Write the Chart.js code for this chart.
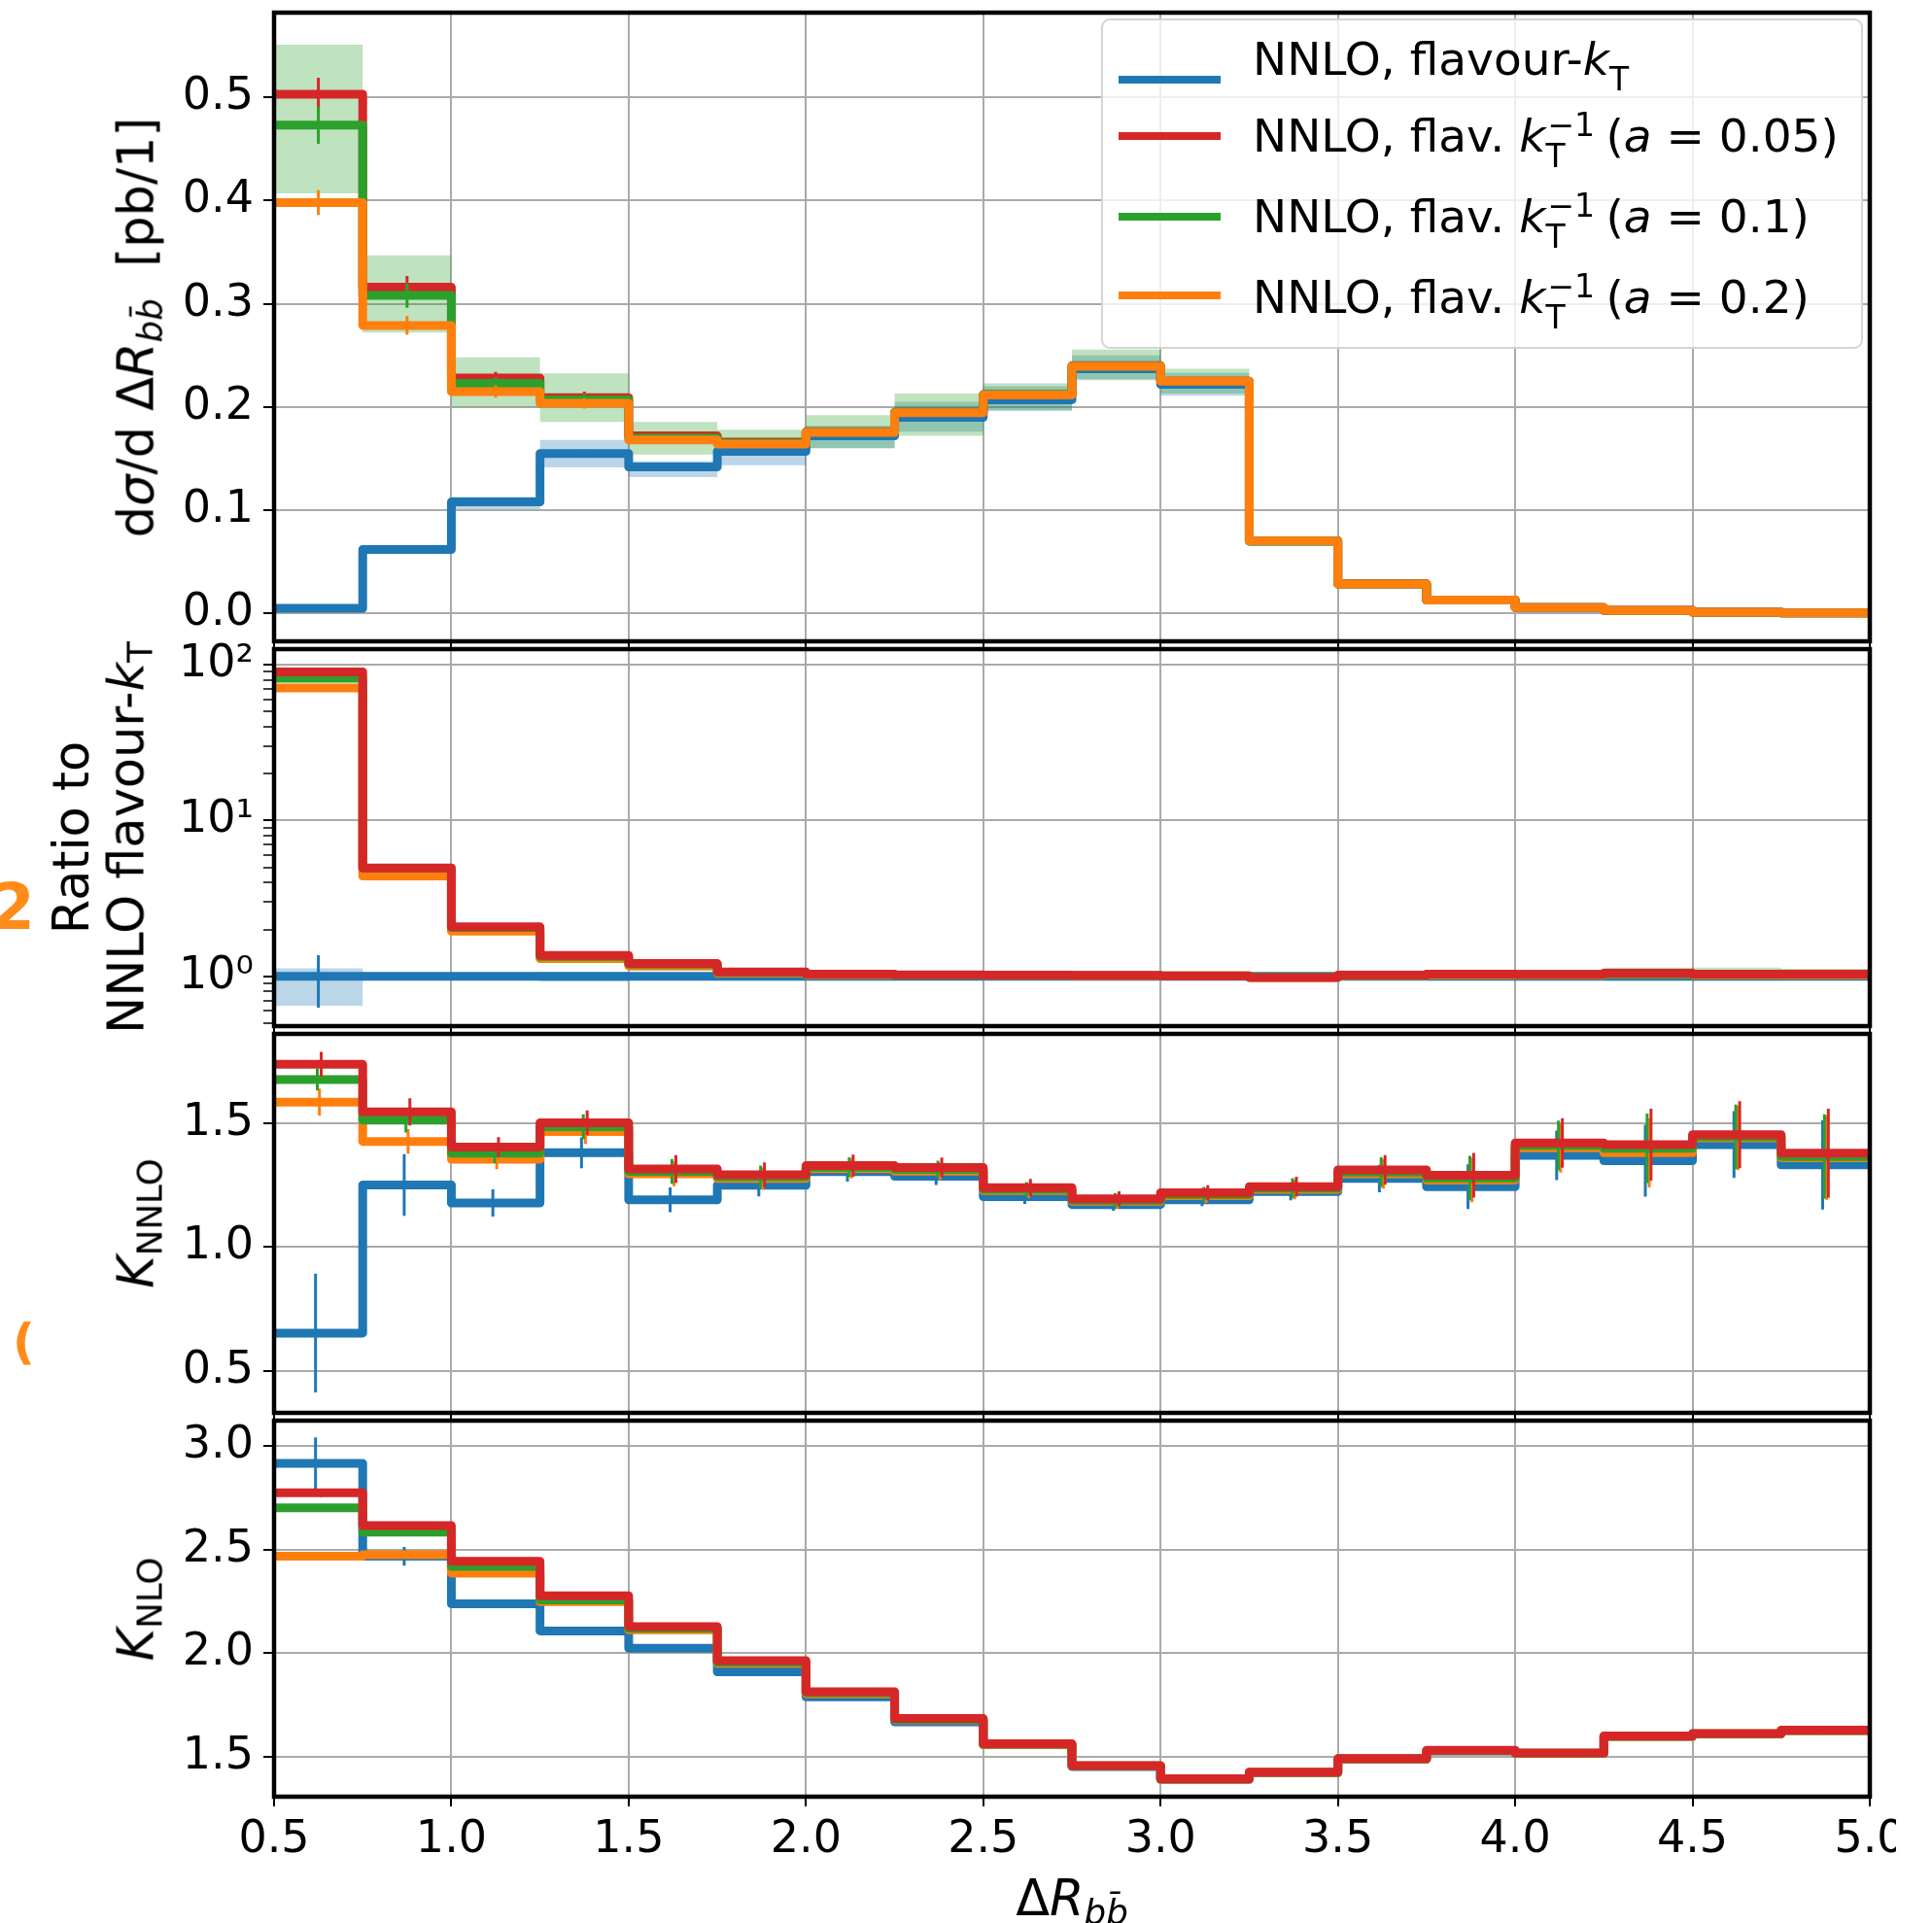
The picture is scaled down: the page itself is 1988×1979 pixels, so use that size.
<!DOCTYPE html>
<html>
<head>
<meta charset="utf-8">
<script src="https://cdn.jsdelivr.net/npm/chart.js@4.4.0/dist/chart.umd.min.js"></script>
<style>
  html, body { margin: 0; padding: 0; background: #fff; width: 1988px; height: 1979px; overflow: hidden; font-family: 'DejaVu Sans', sans-serif; color: #000; }
  canvas { position: absolute; left: 0; }
  .lbl { position: absolute; white-space: pre; font-size: 51px; line-height: 1; }
  .rot { transform: translate(-50%, -50%) rotate(-90deg); }
  .sb { font-size: 0.7em; position: relative; top: 0.25em; }
  .ss { position: relative; display: inline-block; height: 0; }
  .ss .sp { position: absolute; left: 2px; bottom: 11px; font-size: 33px; line-height: 1; }
  .ss .sd { position: absolute; left: 0; top: -12px; font-size: 33px; line-height: 1; }
  #legend { position: absolute; left: 1133px; top: 19px; width: 784px; height: 340px; box-sizing: border-box;
            border: 2px solid #d4d4d4; border-radius: 9px; background: rgba(255,255,255,0.8); }
  .row { position: absolute; left: 154px; white-space: pre; font-size: 47px; line-height: 1; }
  .swatch { position: absolute; left: 16px; width: 105px; height: 8px; }
  .scrib { position: absolute; color: #ff8c1a; font-weight: bold; line-height: 1; }
</style>
</head>
<body>
<canvas id="p1"></canvas>
<canvas id="p2"></canvas>
<canvas id="p3"></canvas>
<canvas id="p4"></canvas>

<div class="lbl rot" style="left:140px; top:337px;">d<i>σ</i>/d Δ<i>R</i><span class="sb"><i>b</i><i>b&#x304;</i></span>  [pb/1]</div>
<div class="lbl rot" style="left:73px; top:862px;">Ratio to</div>
<div class="lbl rot" style="left:130px; top:862px;">NNLO flavour-<i>k</i><span class="sb">T</span></div>
<div class="lbl rot" style="left:140px; top:1259px;"><i>K</i><span class="sb">NNLO</span></div>
<div class="lbl rot" style="left:140px; top:1656px;"><i>K</i><span class="sb">NLO</span></div>
<div class="lbl" style="left:1103px; top:1928px; transform: translateX(-50%);">Δ<i>R</i><span class="sb"><i>b</i><i>b&#x304;</i></span></div>

<div class="scrib" style="left:-10px; top:901px; font-size:66px;">2</div>
<div class="scrib" style="left:13px; top:1356px; font-size:50px;">(</div>

<div id="legend">
  <div class="swatch" style="top:57px; background:#1f77b4;"></div>
  <div class="row" style="top:16px;">NNLO, flavour-<i>k</i><span class="ss" style="width:30px;"><span class="sd">T</span></span></div>
  <div class="swatch" style="top:115px; background:#d62728;"></div>
  <div class="row" style="top:95px;">NNLO, flav. <i>k</i><span class="ss" style="width:62px;"><span class="sp">−1</span><span class="sd">T</span></span>(<i>a</i> = 0.05)</div>
  <div class="swatch" style="top:198px; background:#2ca02c;"></div>
  <div class="row" style="top:178px;">NNLO, flav. <i>k</i><span class="ss" style="width:62px;"><span class="sp">−1</span><span class="sd">T</span></span>(<i>a</i> = 0.1)</div>
  <div class="swatch" style="top:279px; background:#ff7f0e;"></div>
  <div class="row" style="top:261px;">NNLO, flav. <i>k</i><span class="ss" style="width:62px;"><span class="sp">−1</span><span class="sd">T</span></span>(<i>a</i> = 0.2)</div>
</div>

<script>
// bin edges in Delta R_bb and shared x ticks
const EDGES = [0.5, 0.75, 1.0, 1.25, 1.5, 1.75, 2.0, 2.25, 2.5, 2.75, 3.0, 3.25, 3.5, 3.75, 4.0, 4.25, 4.5, 4.75, 5.0];
const X_TICKS = [0.5, 1.0, 1.5, 2.0, 2.5, 3.0, 3.5, 4.0, 4.5, 5.0];

const C_KT = '#1f77b4', C_A005 = '#d62728', C_A01 = '#2ca02c', C_A02 = '#ff7f0e';

// panel 1: dsigma/dDeltaR [pb]
const XS_TICKS = [0.0, 0.1, 0.2, 0.3, 0.4, 0.5];
const XS_KT   = [0.005, 0.062, 0.108, 0.155, 0.142, 0.157, 0.172, 0.190, 0.207, 0.237, 0.222, 0.0700, 0.0285, 0.0130, 0.0057, 0.0030, 0.0012, 0.0005];
const XS_A005 = [0.503, 0.316, 0.228, 0.209, 0.172, 0.166, 0.176, 0.195, 0.212, 0.240, 0.225, 0.0705, 0.0287, 0.0131, 0.0058, 0.0031, 0.0013, 0.0005];
const XS_A01  = [0.473, 0.308, 0.223, 0.207, 0.170, 0.165, 0.1755, 0.195, 0.212, 0.2395, 0.225, 0.0703, 0.0286, 0.0130, 0.0058, 0.0030, 0.0013, 0.0005];
const XS_A02  = [0.398, 0.279, 0.215, 0.2035, 0.168, 0.164, 0.1754, 0.1945, 0.2117, 0.2394, 0.225, 0.0701, 0.0285, 0.0130, 0.0057, 0.0030, 0.0012, 0.0005];
const XS_KT_ERR   = [0.001, 0.003, 0.003, 0.004, 0.003, 0.003, 0.003, 0.003, 0.003, 0.003, 0.003, 0.002, 0.001, 0.001, 0.001, 0.0005, 0.0005, 0.0005];
const XS_A005_ERR = [0.016, 0.011, 0.006, 0.006, 0.004, 0.003, 0.003, 0.003, 0.003, 0.003, 0.003, 0.002, 0.001, 0.001, 0.001, 0.0005, 0.0005, 0.0005];
const XS_A01_ERR  = [0.018, 0.012, 0.006, 0.006, 0.004, 0.003, 0.003, 0.003, 0.003, 0.003, 0.003, 0.002, 0.001, 0.001, 0.001, 0.0005, 0.0005, 0.0005];
const XS_A02_ERR  = [0.012, 0.009, 0.006, 0.005, 0.004, 0.003, 0.003, 0.003, 0.003, 0.003, 0.003, 0.002, 0.001, 0.001, 0.001, 0.0005, 0.0005, 0.0005];
const XS_A01_LO = [0.407, 0.272, 0.200, 0.1855, 0.154, 0.155, 0.160, 0.172, 0.197, 0.227, 0.213, 0.066, 0.027, 0.012, 0.0053, 0.0028, 0.0011, 0.0004];
const XS_A01_HI = [0.551, 0.347, 0.248, 0.2325, 0.1855, 0.178, 0.192, 0.213, 0.223, 0.2557, 0.237, 0.074, 0.030, 0.014, 0.0062, 0.0033, 0.0014, 0.0006];
const XS_KT_LO  = [0.004, 0.060, 0.101, 0.1415, 0.132, 0.1435, 0.160, 0.176, 0.196, 0.226, 0.211, 0.066, 0.027, 0.012, 0.0053, 0.0028, 0.0011, 0.0004];
const XS_KT_HI  = [0.006, 0.065, 0.113, 0.168, 0.1476, 0.168, 0.182, 0.205, 0.220, 0.250, 0.233, 0.074, 0.030, 0.014, 0.0062, 0.0033, 0.0014, 0.0006];

// panel 2: ratio to NNLO flavour-kT (log)
const R_TICKS = [0.5, 0.6, 0.7, 0.8, 0.9, 1, 2, 3, 4, 5, 6, 7, 8, 9, 10, 20, 30, 40, 50, 60, 70, 80, 90, 100];
const R_MAJOR = [1, 10, 100];
const R_LABELS = ['10⁰', '10¹', '10²'];
const R_KT   = [1, 1, 1, 1, 1, 1, 1, 1, 1, 1, 1, 1, 1, 1, 1, 1, 1, 1];
const R_A005 = [90, 4.97, 2.08, 1.365, 1.21, 1.07, 1.034, 1.024, 1.02, 1.015, 1.01, 0.985, 1.02, 1.035, 1.03, 1.05, 1.035, 1.035];
const R_A01  = [82, 4.95, 2.06, 1.345, 1.20, 1.06, 1.03, 1.02, 1.02, 1.012, 1.008, 0.99, 1.01, 1.03, 1.03, 1.04, 1.03, 1.03];
const R_A02  = [71, 4.41, 1.95, 1.30, 1.166, 1.05, 1.025, 1.02, 1.015, 1.01, 1.005, 0.985, 1.01, 1.02, 1.02, 1.03, 1.02, 1.02];
const R_KT_ERR   = [0.37, 0.04, 0.02, 0.02, 0.02, 0.02, 0.02, 0.02, 0.02, 0.02, 0.02, 0.02, 0.02, 0.02, 0.03, 0.04, 0.04, 0.05];
const R_A005_ERR = [2.0, 0.15, 0.04, 0.03, 0.02, 0.02, 0.02, 0.02, 0.02, 0.02, 0.02, 0.02, 0.02, 0.03, 0.03, 0.05, 0.05, 0.06];
const R_KT_LO  = [0.65, 0.96, 0.97, 0.93, 0.95, 0.96, 0.96, 0.96, 0.97, 0.97, 0.97, 0.96, 0.96, 0.96, 0.96, 0.95, 0.95, 0.95];
const R_KT_HI  = [1.127, 1.04, 1.03, 1.07, 1.05, 1.04, 1.04, 1.04, 1.03, 1.03, 1.03, 1.04, 1.04, 1.04, 1.04, 1.05, 1.05, 1.05];
const R_A01_LO = [80, 4.85, 2.02, 1.32, 1.18, 1.04, 1.01, 1.0, 1.0, 0.99, 0.99, 0.97, 0.96, 0.96, 0.96, 0.94, 0.94, 0.95];
const R_A01_HI = [84, 5.05, 2.10, 1.37, 1.22, 1.08, 1.05, 1.04, 1.04, 1.03, 1.03, 1.01, 1.09, 1.09, 1.09, 1.14, 1.14, 1.12];

// panel 3: K_NNLO
const K3_TICKS = [0.5, 1.0, 1.5];
const K3_KT   = [0.652, 1.250, 1.177, 1.380, 1.190, 1.249, 1.304, 1.285, 1.203, 1.171, 1.190, 1.223, 1.276, 1.243, 1.370, 1.348, 1.413, 1.331];
const K3_A005 = [1.737, 1.545, 1.403, 1.501, 1.315, 1.291, 1.328, 1.321, 1.239, 1.194, 1.219, 1.243, 1.311, 1.289, 1.420, 1.413, 1.453, 1.378];
const K3_A01  = [1.676, 1.512, 1.378, 1.485, 1.305, 1.283, 1.322, 1.313, 1.232, 1.188, 1.212, 1.237, 1.302, 1.278, 1.410, 1.398, 1.445, 1.365];
const K3_A02  = [1.584, 1.426, 1.354, 1.466, 1.295, 1.276, 1.316, 1.306, 1.227, 1.184, 1.207, 1.232, 1.295, 1.270, 1.400, 1.380, 1.440, 1.360];
const K3_KT_ERR   = [0.24, 0.125, 0.055, 0.062, 0.05, 0.045, 0.04, 0.035, 0.03, 0.025, 0.025, 0.035, 0.055, 0.09, 0.10, 0.145, 0.135, 0.18];
const K3_A005_ERR = [0.05, 0.055, 0.04, 0.05, 0.056, 0.05, 0.045, 0.04, 0.035, 0.03, 0.03, 0.04, 0.06, 0.09, 0.10, 0.145, 0.135, 0.18];
const K3_A01_ERR  = [0.045, 0.05, 0.04, 0.05, 0.05, 0.045, 0.04, 0.035, 0.03, 0.03, 0.03, 0.04, 0.06, 0.09, 0.10, 0.14, 0.13, 0.17];
const K3_A02_ERR  = [0.055, 0.05, 0.04, 0.05, 0.05, 0.045, 0.04, 0.035, 0.03, 0.03, 0.03, 0.04, 0.06, 0.09, 0.10, 0.14, 0.13, 0.17];

// panel 4: K_NLO
const K4_TICKS = [1.5, 2.0, 2.5, 3.0];
const K4_KT   = [2.914, 2.467, 2.238, 2.108, 2.024, 1.911, 1.790, 1.670, 1.560, 1.455, 1.393, 1.425, 1.490, 1.530, 1.518, 1.600, 1.612, 1.628];
const K4_A005 = [2.773, 2.615, 2.443, 2.277, 2.129, 1.965, 1.815, 1.686, 1.565, 1.460, 1.396, 1.428, 1.493, 1.533, 1.520, 1.602, 1.614, 1.630];
const K4_A01  = [2.700, 2.583, 2.418, 2.257, 2.120, 1.958, 1.810, 1.682, 1.562, 1.458, 1.395, 1.427, 1.492, 1.532, 1.519, 1.601, 1.613, 1.629];
const K4_A02  = [2.467, 2.475, 2.386, 2.249, 2.113, 1.952, 1.805, 1.680, 1.560, 1.457, 1.394, 1.426, 1.491, 1.531, 1.518, 1.600, 1.612, 1.628];
const K4_KT_ERR   = [0.125, 0.045, 0.012, 0.01, 0.01, 0.01, 0.01, 0.008, 0.008, 0.008, 0.008, 0.008, 0.008, 0.01, 0.01, 0.012, 0.012, 0.02];
const K4_A005_ERR = [0.02, 0.015, 0.012, 0.01, 0.01, 0.01, 0.01, 0.008, 0.008, 0.008, 0.008, 0.008, 0.008, 0.01, 0.01, 0.012, 0.012, 0.02];

const GRID = '#aaaaaa';
const TICK_FONT = 46;
Chart.defaults.font.family = "'DejaVu Sans', sans-serif";
Chart.defaults.color = '#000';

function steps(vals) {
  return EDGES.map((x, i) => ({ x, y: vals[Math.min(i, vals.length - 1)] }));
}
function bars(vals, errs, dx) {
  const out = [];
  vals.forEach((v, i) => {
    const c = (EDGES[i] + EDGES[i + 1]) / 2 + dx;
    out.push({ x: c, y: v - errs[i] }, { x: c, y: v + errs[i] }, { x: c, y: null });
  });
  return out;
}
function lineDs(vals, color, order) {
  return { data: steps(vals), borderColor: color, borderWidth: 9, stepped: 'before', pointRadius: 0,
           fill: false, order, borderJoinStyle: 'round', borderCapStyle: 'butt' };
}
function errDs(vals, errs, color, order, dx) {
  return { data: bars(vals, errs, dx), borderColor: color, borderWidth: 3, pointRadius: 0,
           fill: false, order, spanGaps: false };
}
function bandDs(lo, hi, rgba, order) {
  return [
    { data: steps(hi), borderColor: 'rgba(0,0,0,0)', borderWidth: 0, backgroundColor: rgba,
      stepped: 'before', pointRadius: 0, fill: '+1', order },
    { data: steps(lo), borderColor: 'rgba(0,0,0,0)', borderWidth: 0, stepped: 'before',
      pointRadius: 0, fill: false, order }
  ];
}

const spines = {
  id: 'spines',
  afterDraw(chart) {
    const { ctx, chartArea: a } = chart;
    ctx.save();
    ctx.strokeStyle = '#000';
    ctx.lineWidth = 4.5;
    ctx.strokeRect(a.left, a.top, a.right - a.left, a.bottom - a.top);
    ctx.restore();
  }
};

const PAD = 30;
function makePanel(id, top, bottom, xH, yScale, datasets, showX) {
  const cv = document.getElementById(id);
  cv.width = 1951;
  cv.height = (bottom - top) + PAD + xH;
  cv.style.top = (top - PAD) + 'px';
  new Chart(cv, {
    type: 'line',
    data: { datasets },
    options: {
      responsive: false, animation: false, events: [],
      layout: { padding: { top: PAD, right: 1951 - 1924, left: 0, bottom: 0 } },
      plugins: { legend: { display: false }, tooltip: { enabled: false } },
      scales: {
        x: {
          type: 'linear', min: 0.5, max: 5.0,
          afterBuildTicks: s => { s.ticks = X_TICKS.map(v => ({ value: v })); },
          afterFit: s => { s.height = xH; s.paddingLeft = 0; s.paddingRight = 0; },
          grid: { color: GRID, lineWidth: 2, tickLength: 10, tickColor: '#000', tickWidth: 2 },
          border: { display: false },
          ticks: { display: showX, font: { size: TICK_FONT }, color: '#000', padding: 7, maxRotation: 0,
                   autoSkip: false, callback: v => v.toFixed(1) }
        },
        y: yScale
      }
    },
    plugins: [spines]
  });
}

function linY(min, max, ticks) {
  return {
    type: 'linear', min, max,
    afterBuildTicks: s => { s.ticks = ticks.map(v => ({ value: v })); },
    afterFit: s => { s.width = 282; s.paddingTop = 0; s.paddingBottom = 0; },
    grid: { color: GRID, lineWidth: 2, tickLength: 11, tickColor: '#000', tickWidth: 2 },
    border: { display: false },
    ticks: { font: { size: TICK_FONT }, color: '#000', padding: 10, autoSkip: false, callback: v => v.toFixed(1) }
  };
}
function logY(min, max) {
  const isMajor = v => R_MAJOR.indexOf(v) >= 0;
  return {
    type: 'logarithmic', min, max,
    afterBuildTicks: s => { s.ticks = R_TICKS.map(v => ({ value: v, major: isMajor(v) })); },
    afterFit: s => { s.width = 282; s.paddingTop = 0; s.paddingBottom = 0; },
    grid: { color: c => (c.tick && isMajor(c.tick.value)) ? GRID : 'rgba(0,0,0,0)', lineWidth: 2,
            tickLength: 11, tickColor: '#000', tickWidth: c => (c.tick && isMajor(c.tick.value)) ? 2 : 1.5 },
    border: { display: false },
    ticks: { font: { size: TICK_FONT }, color: '#000', padding: 10, autoSkip: false,
             callback: v => { const i = R_MAJOR.indexOf(v); return i >= 0 ? R_LABELS[i] : ''; } }
  };
}

const DX = { kt: -0.008, a01: -0.003, a02: 0.003, a005: 0.008 };

makePanel('p1', 13, 660, 12, linY(-0.027, 0.582, XS_TICKS), [
  lineDs(XS_A02, C_A02, 1), errDs(XS_A02, XS_A02_ERR, C_A02, 2, 0),
  lineDs(XS_A01, C_A01, 3), errDs(XS_A01, XS_A01_ERR, C_A01, 4, 0),
  lineDs(XS_A005, C_A005, 5), errDs(XS_A005, XS_A005_ERR, C_A005, 6, 0),
  lineDs(XS_KT, C_KT, 7), errDs(XS_KT, XS_KT_ERR, C_KT, 8, 0),
  ...bandDs(XS_A01_LO, XS_A01_HI, 'rgba(44,160,44,0.3)', 9),
  ...bandDs(XS_KT_LO, XS_KT_HI, 'rgba(31,119,180,0.3)', 10)
], false);

makePanel('p2', 668, 1056, 12, logY(0.48, 126), [
  lineDs(R_A005, C_A005, 1), errDs(R_A005, R_A005_ERR, C_A005, 2, 0),
  lineDs(R_A01, C_A01, 3),
  lineDs(R_A02, C_A02, 5),
  lineDs(R_KT, C_KT, 7), errDs(R_KT, R_KT_ERR, C_KT, 8, 0),
  ...bandDs(R_A01_LO, R_A01_HI, 'rgba(44,160,44,0.3)', 9),
  ...bandDs(R_KT_LO, R_KT_HI, 'rgba(31,119,180,0.3)', 10)
], false);

makePanel('p3', 1064, 1454, 12, linY(0.33, 1.86, K3_TICKS), [
  lineDs(K3_A005, C_A005, 1), errDs(K3_A005, K3_A005_ERR, C_A005, 2, DX.a005),
  lineDs(K3_A01, C_A01, 3), errDs(K3_A01, K3_A01_ERR, C_A01, 4, DX.a01),
  lineDs(K3_A02, C_A02, 5), errDs(K3_A02, K3_A02_ERR, C_A02, 6, DX.a02),
  lineDs(K3_KT, C_KT, 7), errDs(K3_KT, K3_KT_ERR, C_KT, 8, DX.kt)
], false);

makePanel('p4', 1462, 1849, 130, linY(1.31, 3.12, K4_TICKS), [
  lineDs(K4_A005, C_A005, 1), errDs(K4_A005, K4_A005_ERR, C_A005, 2, DX.a005),
  lineDs(K4_A01, C_A01, 3),
  lineDs(K4_A02, C_A02, 5),
  lineDs(K4_KT, C_KT, 7), errDs(K4_KT, K4_KT_ERR, C_KT, 8, DX.kt)
], true);
</script>
</body>
</html>
